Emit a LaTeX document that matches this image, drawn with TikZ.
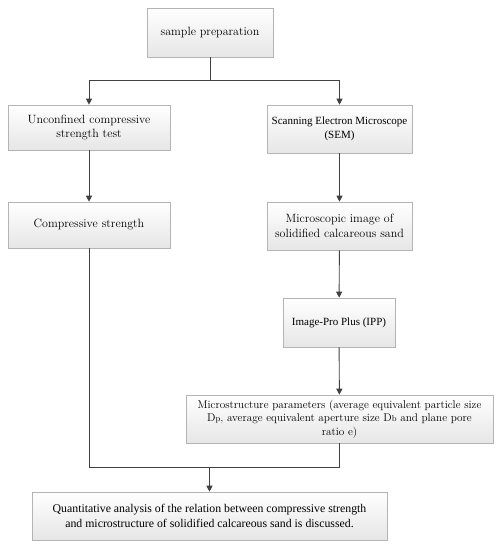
\documentclass[tikz,border=0pt]{standalone}
\usepackage{fontspec}
\newfontfamily\tms{Liberation Serif}
\usetikzlibrary{shadows,arrows.meta}
\definecolor{linec}{HTML}{404040}
\definecolor{boxline}{HTML}{B4B4B4}
\definecolor{boxbot}{HTML}{E6E6E6}
\tikzset{
  box/.style={draw=boxline, line width=0.6pt, top color=white, bottom color=boxbot,
    drop shadow={shadow xshift=1.2pt, shadow yshift=-1.2pt, fill=black!25},
    rectangle, inner sep=2pt, align=center, font=\fontsize{12}{14.5}\selectfont},
  conn/.style={draw=linec, line width=0.9pt},
  arr/.style={conn, -{Triangle[length=6pt,width=6pt]}}
}
\begin{document}
\begin{tikzpicture}[x=1pt,y=-1pt]
\useasboundingbox (0,0) rectangle (501,550);
\node[box, minimum width=126pt, minimum height=49pt] (sp) at (210,32.5) {sample preparation};
\node[box, minimum width=162pt, minimum height=45pt] (uc) at (89,127.5) {Unconfined compressive\\strength test};
\node[box, minimum width=162pt, minimum height=46pt] (cs) at (89,225) {Compressive strength};
\node[box, minimum width=145pt, minimum height=48pt, font=\tms\fontsize{11}{14}\selectfont] (sem) at (339.5,129) {Scanning Electron Microscope\\(SEM)};
\node[box, minimum width=145pt, minimum height=48pt] (mi) at (339.5,226) {Microscopic image of\\solidified calcareous sand};
\node[box, minimum width=112pt, minimum height=49pt, font=\tms\fontsize{11}{14}\selectfont] (ipp) at (339,322.5) {Image-Pro Plus (IPP)};
\node[box, minimum width=307pt, minimum height=48pt, font=\fontsize{11.2}{13.5}\selectfont] (mp) at (339.5,419) {Microstructure parameters (average equivalent particle size\\D{\fontsize{8.5}{8.5}\selectfont p}, average equivalent aperture size D{\fontsize{8.5}{8.5}\selectfont b} and plane pore\\ratio e)};
\node[box, minimum width=355pt, minimum height=48pt, font=\tms\fontsize{11.8}{15}\selectfont] (qa) at (209.5,516) {Quantitative analysis of the relation between compressive strength\\and microstructure of solidified calcareous sand is discussed.};
\coordinate (j1) at (210,80);
\coordinate (j2) at (209.5,467);
\draw[conn] (sp.south) -- (j1);
\draw[arr] (j1) -| (uc.north);
\draw[arr] (j1) -| (sem.north);
\draw[arr] (uc) -- (cs);
\draw[arr] (sem) -- (mi);
\draw[arr] (mi) -- (ipp);
\draw[arr] (ipp) -- (mp);
\draw[conn] (cs.south) |- (j2);
\draw[conn] (mp.south) |- (j2);
\draw[arr] (j2) -- (qa.north);
\end{tikzpicture}
\end{document}
